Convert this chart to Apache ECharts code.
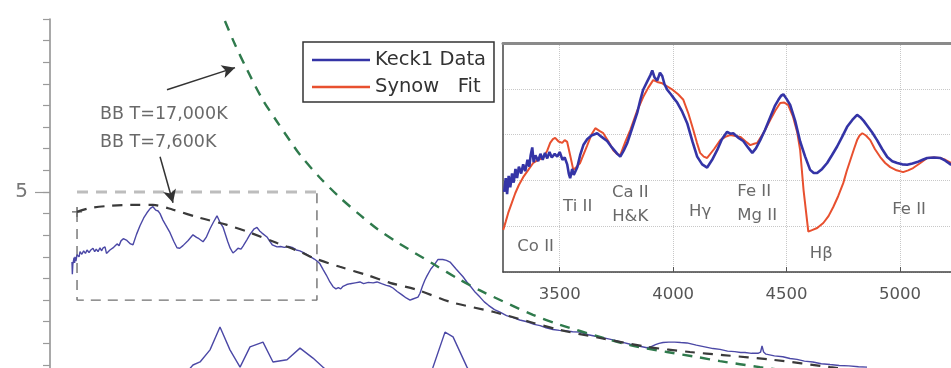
<!DOCTYPE html>
<html>
<head>
<meta charset="utf-8">
<script src="https://cdn.jsdelivr.net/npm/echarts@6/dist/echarts.min.js"></script>
<style>
html,body{margin:0;padding:0;background:#fff;}
#c{width:951px;height:368px;}
</style>
</head>
<body>
<div id="c"></div>
<script>
// ---------- DATA ----------
// Main panel: wavelength (Angstrom) vs flux (arbitrary, offset)
const mainSpectrum = [[3183,3.38],[3186,3.10],[3190,3.32],[3195,3.40],[3200,3.48],[3205,3.36],[3208,3.50],[3216,3.40],[3225,3.55],[3233,3.58],[3242,3.50],[3250,3.62],[3265,3.56],[3280,3.64],[3295,3.58],[3308,3.66],[3325,3.60],[3340,3.66],[3358,3.70],[3372,3.62],[3385,3.68],[3400,3.62],[3416,3.71],[3430,3.64],[3440,3.70],[3458,3.73],[3470,3.58],[3480,3.60],[3499,3.66],[3515,3.62],[3530,3.72],[3545,3.70],[3558,3.80],[3575,3.76],[3591,3.87],[3610,3.92],[3624,3.96],[3640,3.88],[3650,3.84],[3670,3.80],[3691,3.78],[3720,4.02],[3749,4.22],[3780,4.40],[3807,4.52],[3835,4.62],[3857,4.66],[3880,4.58],[3900,4.56],[3916,4.50],[3940,4.35],[3960,4.25],[3999,4.06],[4030,3.86],[4057,3.71],[4080,3.70],[4107,3.76],[4150,3.88],[4190,4.01],[4220,3.95],[4240,3.92],[4274,3.85],[4300,3.95],[4332,4.15],[4360,4.30],[4390,4.45],[4415,4.30],[4440,4.19],[4480,3.85],[4500,3.70],[4523,3.59],[4545,3.64],[4565,3.70],[4590,3.68],[4607,3.75],[4640,3.90],[4665,4.02],[4700,4.15],[4723,4.18],[4745,4.10],[4765,4.05],[4806,3.96],[4830,3.86],[4850,3.78],[4890,3.73],[4920,3.74],[4950,3.72],[4985,3.74],[5023,3.71],[5050,3.66],[5080,3.64],[5110,3.60],[5139,3.55],[5170,3.50],[5200,3.45],[5225,3.40],[5247,3.34],[5275,3.20],[5300,3.08],[5330,2.92],[5356,2.81],[5380,2.76],[5400,2.79],[5420,2.76],[5439,2.82],[5470,2.86],[5500,2.88],[5540,2.90],[5580,2.92],[5610,2.88],[5650,2.91],[5690,2.90],[5722,2.92],[5760,2.88],[5800,2.84],[5830,2.82],[5855,2.78],[5890,2.70],[5930,2.62],[5965,2.55],[5997,2.50],[6015,2.52],[6030,2.56],[6063,2.57],[6080,2.66],[6100,2.82],[6120,2.96],[6138,3.06],[6170,3.22],[6200,3.32],[6230,3.44],[6246,3.46],[6270,3.44],[6300,3.42],[6330,3.38],[6380,3.22],[6438,3.04],[6470,2.92],[6500,2.82],[6540,2.68],[6579,2.57],[6615,2.46],[6650,2.38],[6700,2.28],[6746,2.22],[6800,2.14],[6850,2.10],[6910,2.04],[6971,2.00],[7030,1.94],[7080,1.91],[7130,1.86],[7187,1.82],[7240,1.80],[7300,1.79],[7350,1.77],[7412,1.76],[7480,1.70],[7550,1.66],[7620,1.62],[7686,1.58],[7760,1.53],[7830,1.48],[7900,1.44],[7969,1.40],[8000,1.42],[8040,1.47],[8070,1.50],[8103,1.52],[8150,1.53],[8200,1.53],[8250,1.52],[8302,1.51],[8380,1.46],[8450,1.42],[8520,1.38],[8577,1.36],[8640,1.32],[8700,1.31],[8750,1.29],[8785,1.29],[8840,1.27],[8893,1.27],[8915,1.30],[8927,1.44],[8940,1.30],[8960,1.25],[9030,1.21],[9100,1.19],[9160,1.15],[9218,1.13],[9280,1.09],[9350,1.07],[9420,1.03],[9493,1.01],[9570,0.99],[9650,0.98],[9730,0.96],[9801,0.95]];
const lowerSpectrum = [[4082,0.65],[4190,1.00],[4249,1.07],[4332,1.35],[4415,1.88],[4498,1.35],[4582,0.95],[4665,1.42],[4773,1.53],[4856,1.07],[4973,1.12],[5081,1.39],[5189,1.16],[5273,0.95],[5372,0.70],[5580,0.31],[5913,0.42],[6122,0.54],[6188,0.95],[6288,1.76],[6355,1.65],[6471,0.95],[6538,0.65]];
const bb7600 = [[3225,4.54],[3333,4.63],[3499,4.68],[3666,4.70],[3857,4.70],[4024,4.59],[4249,4.40],[4473,4.24],[4665,4.06],[4890,3.82],[5081,3.62],[5189,3.48],[5414,3.27],[5639,3.08],[5830,2.90],[6055,2.74],[6330,2.46],[6688,2.23],[6996,1.995],[7245,1.81],[7578,1.625],[7969,1.42],[8327,1.30],[8602,1.23],[9018,1.12],[9493,0.95],[9826,0.84]];
const bb17000 = [[4398,9.33],[4440,9.06],[4540,8.41],[4640,7.83],[4765,7.16],[4890,6.625],[4998,6.185],[5081,5.86],[5247,5.33],[5414,4.87],[5580,4.47],[5722,4.15],[5913,3.80],[6188,3.34],[6413,2.97],[6604,2.69],[7020,2.16],[7245,1.93],[7578,1.65],[7828,1.46],[8136,1.30],[8386,1.185],[8577,1.09],[8910,0.95],[9160,0.86]];
const zoomBoxSides = [[3225,4.54],[3225,2.5],[5222,2.5],[5222,5.0]];
const zoomBoxTop = [[3225,5.0],[5222,5.0]];
const mainYTicks = [1,1.5,2,2.5,3,3.5,4,4.5,5,5.5,6,6.5,7,7.5,8,8.5,9];
const mainYLabels = [5];
const bbLabels = [{value:[3416,6.79], text:'BB T=17,000K'},{value:[3416,6.14], text:'BB T=7,600K'}];
const arrows = [[[3974,7.366],[4540,7.875]],[[3916,5.815],[4024,4.75]]];

// Inset: wavelength vs flux
const keckData = [[3255,1.75],[3262,2.05],[3268,1.70],[3275,2.10],[3282,1.85],[3290,2.15],[3297,1.95],[3305,2.25],[3312,2.05],[3320,2.30],[3330,2.15],[3339,2.35],[3348,2.20],[3358,2.45],[3366,2.30],[3372,2.55],[3379,2.72],[3385,2.40],[3393,2.55],[3405,2.42],[3415,2.58],[3425,2.45],[3435,2.60],[3445,2.48],[3455,2.62],[3465,2.50],[3478,2.58],[3489,2.52],[3500,2.62],[3512,2.45],[3522,2.50],[3533,2.35],[3540,2.15],[3546,2.05],[3555,2.25],[3562,2.12],[3577,2.28],[3590,2.55],[3605,2.78],[3621,2.90],[3640,2.98],[3665,3.03],[3685,2.95],[3709,2.86],[3730,2.72],[3754,2.58],[3767,2.52],[3782,2.65],[3798,2.82],[3820,3.15],[3842,3.48],[3855,3.75],[3868,3.98],[3885,4.15],[3900,4.30],[3908,4.40],[3918,4.25],[3930,4.18],[3942,4.35],[3952,4.28],[3962,4.10],[3974,3.98],[3990,3.88],[4005,3.78],[4018,3.70],[4040,3.50],[4062,3.25],[4085,2.85],[4106,2.52],[4128,2.35],[4150,2.28],[4172,2.45],[4194,2.66],[4215,2.90],[4238,3.06],[4252,3.02],[4265,3.03],[4290,2.92],[4309,2.86],[4330,2.72],[4349,2.60],[4365,2.70],[4384,2.88],[4405,3.10],[4428,3.38],[4448,3.62],[4464,3.76],[4476,3.85],[4486,3.88],[4500,3.78],[4516,3.65],[4538,3.30],[4560,2.85],[4582,2.52],[4604,2.23],[4620,2.16],[4635,2.16],[4657,2.25],[4679,2.38],[4700,2.55],[4723,2.74],[4745,2.95],[4767,3.17],[4790,3.32],[4811,3.43],[4825,3.38],[4840,3.30],[4855,3.20],[4877,3.05],[4899,2.88],[4922,2.68],[4944,2.51],[4966,2.42],[4988,2.38],[5010,2.35],[5032,2.34],[5055,2.37],[5076,2.40],[5100,2.45],[5120,2.49],[5150,2.50],[5177,2.49],[5200,2.43],[5226,2.34]];
const synowFit = [[3251,0.92],[3262,1.10],[3273,1.29],[3288,1.50],[3304,1.72],[3320,1.90],[3339,2.07],[3360,2.22],[3383,2.38],[3405,2.45],[3427,2.49],[3445,2.65],[3458,2.82],[3470,2.90],[3480,2.93],[3495,2.85],[3511,2.82],[3522,2.88],[3533,2.84],[3546,2.55],[3560,2.23],[3575,2.30],[3590,2.38],[3620,2.75],[3640,3.00],[3657,3.14],[3675,3.08],[3692,3.03],[3715,2.85],[3736,2.66],[3752,2.58],[3767,2.55],[3790,2.85],[3811,3.10],[3840,3.50],[3868,3.82],[3890,4.02],[3912,4.19],[3930,4.15],[3952,4.12],[3975,4.05],[4000,3.97],[4022,3.88],[4045,3.76],[4068,3.45],[4089,3.10],[4105,2.82],[4119,2.60],[4135,2.52],[4150,2.49],[4180,2.68],[4208,2.88],[4230,2.95],[4252,2.99],[4275,2.97],[4296,2.95],[4320,2.85],[4340,2.77],[4357,2.80],[4371,2.82],[4400,3.05],[4428,3.32],[4450,3.52],[4472,3.69],[4490,3.70],[4507,3.65],[4528,3.40],[4547,3.05],[4560,2.66],[4575,1.79],[4596,0.88],[4615,0.92],[4635,0.96],[4662,1.07],[4685,1.22],[4706,1.42],[4728,1.66],[4750,1.94],[4765,2.20],[4781,2.44],[4797,2.68],[4811,2.88],[4822,2.98],[4834,3.03],[4850,2.98],[4869,2.88],[4890,2.68],[4913,2.51],[4935,2.38],[4957,2.29],[4985,2.22],[5014,2.18],[5036,2.22],[5058,2.27],[5090,2.38],[5120,2.49],[5150,2.50],[5177,2.49],[5200,2.45],[5226,2.38]];
const insetXTicks = [3500,4000,4500,5000];
const lineLabels = [
  {value:[3313,0.55], text:'Co II', align:'left'},
  {value:[3515,1.42], text:'Ti II', align:'left'},
  {value:[3811,1.46], text:'Ca II\nH&K', align:'center'},
  {value:[4119,1.31], text:'Hγ', align:'center'},
  {value:[4283,1.48], text:'Fe II\nMg II', align:'left'},
  {value:[4653,0.41], text:'Hβ', align:'center'},
  {value:[4966,1.35], text:'Fe II', align:'left'}
];

// ---------- CHART ----------
const FONT = '"DejaVu Sans", sans-serif';
const chart = echarts.init(document.getElementById('c'), null, {renderer:'canvas'});
const option = {
  animation: false,
  backgroundColor: '#fff',
  grid: [
    {left: 50, right: 0, top: 19, bottom: 0},
    {left: 503, right: 0, top: 43, bottom: 96}
  ],
  xAxis: [
    {gridIndex: 0, type: 'value', min: 3000, max: 10500, show: false},
    {gridIndex: 1, type: 'value', min: 3250, max: 5225, position: 'bottom',
      axisLine: {show: true, lineStyle: {color: '#444', width: 1.5}},
      axisTick: {show: true, inside: true, length: 5, customValues: insetXTicks, lineStyle: {color: '#555'}},
      axisLabel: {show: true, customValues: insetXTicks, formatter: v => String(v), margin: 14, fontSize: 16.5, color: '#555', fontFamily: FONT},
      splitLine: {show: true, lineStyle: {color: '#c8c8c8', type: 'dotted', width: 1}}
    },
    {gridIndex: 1, type: 'value', min: 3250, max: 5225, position: 'top',
      axisLine: {show: true, lineStyle: {color: '#8a8a8a', width: 3}},
      axisTick: {show: false}, axisLabel: {show: false}, splitLine: {show: false}
    }
  ],
  yAxis: [
    {gridIndex: 0, type: 'value', min: 0.9306, max: 9, position: 'left',
      axisLine: {show: true, lineStyle: {color: '#8c8c8c', width: 1.5}},
      axisTick: {show: true, length: 7, customValues: mainYTicks, lineStyle: {color: '#9a9a9a', width: 1.2}},
      axisLabel: {show: true, customValues: mainYLabels, margin: 22, fontSize: 20, color: '#777', fontFamily: FONT},
      splitLine: {show: false}
    },
    {gridIndex: 0, type: 'value', min: 0.9306, max: 9, position: 'left',
      axisLine: {show: false},
      axisTick: {show: true, length: 15, customValues: mainYLabels, lineStyle: {color: '#9a9a9a', width: 1.2}},
      axisLabel: {show: false}, splitLine: {show: false}
    },
    {gridIndex: 1, type: 'value', min: 0, max: 5, interval: 1, position: 'left',
      axisLine: {show: true, lineStyle: {color: '#444', width: 1.5}},
      axisTick: {show: false}, axisLabel: {show: false},
      splitLine: {show: true, lineStyle: {color: '#c8c8c8', type: 'dotted', width: 1}}
    }
  ],
  legend: {
    data: [{name: 'Keck1 Data', icon: 'rect'}, {name: 'Synow   Fit', icon: 'rect'}],
    orient: 'vertical', left: 303, top: 42,
    backgroundColor: '#fff', borderColor: '#333', borderWidth: 1.5, borderRadius: 0,
    padding: [8, 8, 5, 9], itemGap: 7, itemWidth: 58, itemHeight: 2.5,
    textStyle: {fontSize: 19.5, color: '#333', fontFamily: FONT, padding: [0, 0, 0, 0]}
  },
  series: [
    {type: 'line', name: 'box', xAxisIndex: 0, yAxisIndex: 0, data: zoomBoxTop, symbol: 'none', silent: true,
      lineStyle: {color: '#bdbdbd', width: 3, type: [11, 8]}},
    {type: 'line', name: 'boxSides', xAxisIndex: 0, yAxisIndex: 0, data: zoomBoxSides, symbol: 'none', silent: true,
      lineStyle: {color: '#707070', width: 1.4, type: [10, 7]}},
    {type: 'line', name: 'main', xAxisIndex: 0, yAxisIndex: 0, data: mainSpectrum, symbol: 'none', silent: true,
      lineStyle: {color: '#4b48a6', width: 1.4}},
    {type: 'line', name: 'lower', xAxisIndex: 0, yAxisIndex: 0, data: lowerSpectrum, symbol: 'none', silent: true,
      lineStyle: {color: '#4b48a6', width: 1.4}},
    {type: 'line', name: 'bb17000', xAxisIndex: 0, yAxisIndex: 0, data: bb17000, symbol: 'none', smooth: 0.3, silent: true,
      lineStyle: {color: '#2f7a4c', width: 2.4, type: [10, 8]}},
    {type: 'line', name: 'bb7600', xAxisIndex: 0, yAxisIndex: 0, data: bb7600, symbol: 'none', smooth: 0.3, silent: true,
      lineStyle: {color: '#3a3a3a', width: 2.2, type: [10, 8]},
      markLine: {silent: true, symbol: ['none', 'arrow'], symbolSize: [10, 13],
        lineStyle: {color: '#333', width: 1.5, type: 'solid'}, label: {show: false},
        data: arrows.map(a => [{coord: a[0]}, {coord: a[1]}])}
    },
    {type: 'scatter', name: 'plus', xAxisIndex: 0, yAxisIndex: 0, data: [bb7600[0]], silent: true,
      symbol: 'path://M4.3,0H5.7V4.3H10V5.7H5.7V10H4.3V5.7H0V4.3H4.3Z', symbolSize: 10, itemStyle: {color: '#333'}},
    {type: 'scatter', name: 'bbText', xAxisIndex: 0, yAxisIndex: 0, silent: true, symbolSize: 0,
      data: bbLabels.map(d => ({value: d.value, label: {formatter: d.text}})),
      label: {show: true, position: 'right', distance: 0, fontSize: 17.5, color: '#444', fontFamily: FONT}},
    {type: 'line', name: 'Synow   Fit', xAxisIndex: 1, yAxisIndex: 2, data: synowFit, symbol: 'none', silent: true,
      lineStyle: {color: '#e8502f', width: 2}, itemStyle: {color: '#e8502f'}},
    {type: 'line', name: 'Keck1 Data', xAxisIndex: 1, yAxisIndex: 2, data: keckData, symbol: 'none', silent: true,
      lineStyle: {color: '#3434a6', width: 2.6}, itemStyle: {color: '#3434a6'}},
    {type: 'scatter', name: 'lineIds', xAxisIndex: 1, yAxisIndex: 2, silent: true, symbolSize: 0,
      data: lineLabels.map(d => ({value: d.value, label: {formatter: d.text, align: d.align}})),
      label: {show: true, position: 'inside', fontSize: 16.5, lineHeight: 24, color: '#444', fontFamily: FONT}}
  ]
};
chart.setOption(option);
</script>
</body>
</html>
